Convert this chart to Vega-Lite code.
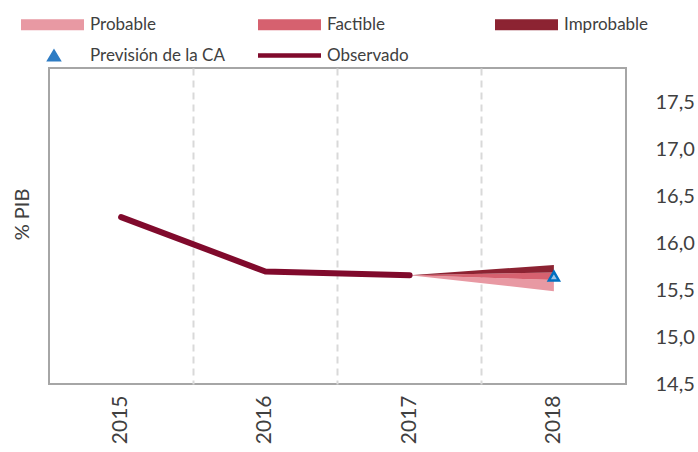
{
  "$schema": "https://vega.github.io/schema/vega-lite/v6.json",
  "width": 577,
  "height": 316,
  "autosize": {"type": "none"},
  "padding": {"left": 49, "top": 68, "right": 72, "bottom": 68},
  "config": {
    "font": "Lato",
    "view": {"stroke": "#A6A6A6", "strokeWidth": 2}
  },
  "datasets": {
    "fan": [
      {"year": "2017", "banda": "Probable", "lo": 15.66, "hi": 15.66},
      {"year": "2018", "banda": "Probable", "lo": 15.49, "hi": 15.61},
      {"year": "2017", "banda": "Factible", "lo": 15.66, "hi": 15.66},
      {"year": "2018", "banda": "Factible", "lo": 15.61, "hi": 15.69},
      {"year": "2017", "banda": "Improbable", "lo": 15.66, "hi": 15.66},
      {"year": "2018", "banda": "Improbable", "lo": 15.69, "hi": 15.77}
    ],
    "obs": [
      {"year": "2015", "banda": "Observado", "lo": 16.28},
      {"year": "2016", "banda": "Observado", "lo": 15.70},
      {"year": "2017", "banda": "Observado", "lo": 15.66}
    ],
    "prev": [
      {"year": "2018", "banda": "Previsión de la CA", "lo": 15.65}
    ]
  },
  "encoding": {
    "x": {
      "field": "year",
      "type": "ordinal",
      "scale": {"type": "band", "domain": ["2015", "2016", "2017", "2018"], "paddingInner": 0, "paddingOuter": 0},
      "axis": {
        "title": null,
        "labelAngle": -90,
        "labelFontSize": 21,
        "labelColor": "#404040",
        "labelPadding": 11,
        "domain": false,
        "bandPosition": 1,
        "grid": true,
        "gridColor": "#D9D9D9",
        "gridDash": [7, 5],
        "gridWidth": 2,
        "gridOpacity": {"condition": {"test": "datum.value != '2018'", "value": 1}, "value": 0},
        "ticks": false
      }
    },
    "y": {
      "field": "lo",
      "type": "quantitative",
      "scale": {"domain": [14.5, 17.87], "nice": false, "zero": false},
      "axis": {
        "orient": "right",
        "values": [14.5, 15, 15.5, 16, 16.5, 17, 17.5],
        "labelExpr": "replace(format(datum.value, '.1f'), '.', ',')",
        "labelFontSize": 20,
        "labelColor": "#404040",
        "labelPadding": 29,
        "labelAlign": "left",
        "ticks": false,
        "domain": false,
        "grid": false,
        "title": "% PIB",
        "titleFontSize": 20,
        "titleFontWeight": "normal",
        "titleColor": "#404040",
        "titleAngle": 270,
        "titleAlign": "center",
        "titleBaseline": "middle",
        "titleX": -604,
        "titleY": 146
      }
    },
    "color": {
      "field": "banda",
      "type": "nominal",
      "scale": {
        "domain": ["Probable", "Factible", "Improbable", "Previsión de la CA", "Observado"],
        "range": ["#E899A3", "#D6616F", "#8C2332", "#2E7CC4", "#800A2C"]
      },
      "legend": {
        "title": null,
        "orient": "none",
        "legendX": -29,
        "legendY": -54.5,
        "direction": "horizontal",
        "columns": 3,
        "gridAlign": "all",
        "columnPadding": 30,
        "rowPadding": 11,
        "padding": 0,
        "symbolSize": 400,
        "symbolOffset": 0,
        "symbolStrokeWidth": 2,
        "labelOffset": 48,
        "labelFontSize": 17,
        "labelColor": "#404040",
        "labelFont": "Lato",
        "labelLimit": 300,
        "encode": {
          "symbols": {
            "update": {
              "shape": {"signal": "datum.value === 'Previsión de la CA' ? 'M2.3,-0.5L2.9,0.5L1.7,0.5Z' : (datum.value === 'Observado' ? 'M-0.9,-0.12H5.2V0.12H-0.9Z' : 'M-0.9,-0.45H5.2V0.45H-0.9Z')"},
              "fill": {"signal": "datum.value === 'Previsión de la CA' ? '#3A84CC' : scale('color', datum.value)"},
              "stroke": {"signal": "datum.value === 'Previsión de la CA' ? '#0070C0' : scale('color', datum.value)"},
              "strokeWidth": {"value": 2},
              "opacity": {"value": 1},
              "fillOpacity": {"value": 1},
              "strokeOpacity": {"value": 1}
            }
          }
        }
      }
    }
  },
  "layer": [
    {
      "data": {"name": "fan"},
      "mark": {"type": "area", "opacity": 1},
      "encoding": {
        "y2": {"field": "hi"}
      }
    },
    {
      "data": {"name": "obs"},
      "mark": {"type": "line", "strokeWidth": 6, "strokeCap": "round", "strokeJoin": "round"}
    },
    {
      "data": {"name": "prev"},
      "mark": {"type": "point", "shape": "triangle-up", "filled": true, "stroke": "#0070C0", "strokeWidth": 2.5, "size": 100, "opacity": 1},
      "encoding": {
        "color": {"value": "#9DC3E6"}
      }
    }
  ]
}
